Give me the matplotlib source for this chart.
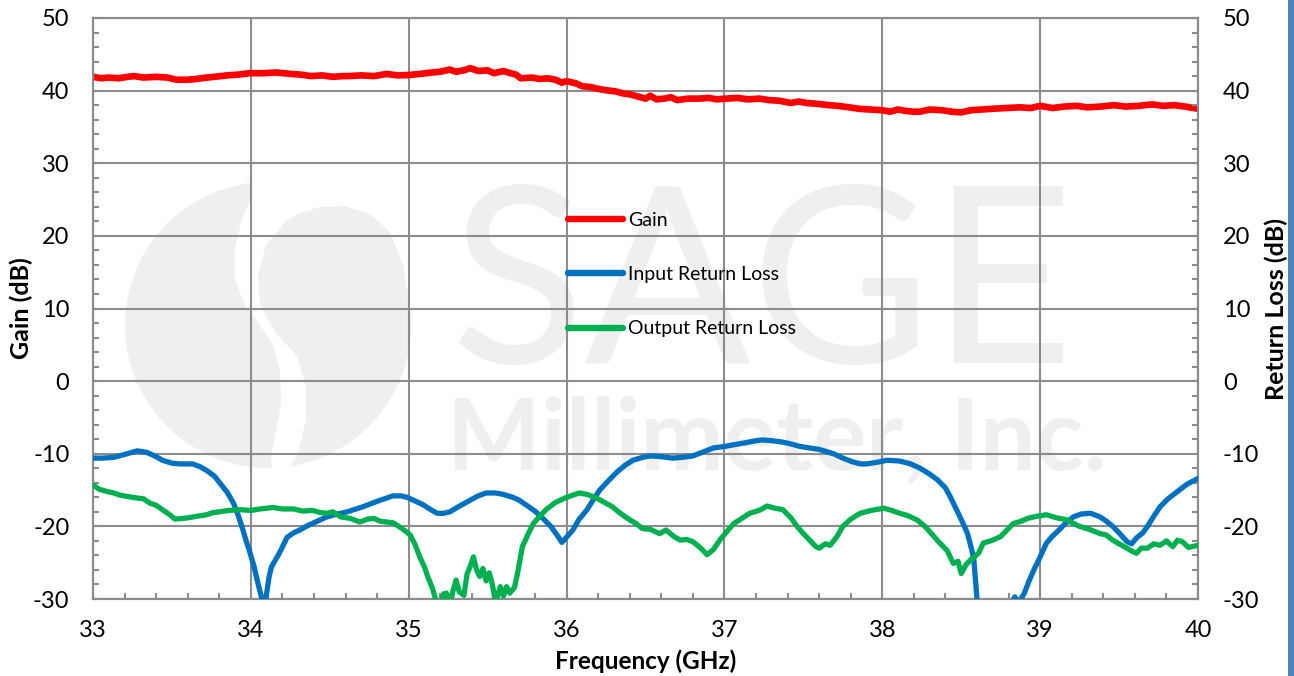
import matplotlib
matplotlib.use('Agg')
import matplotlib.pyplot as plt
from matplotlib.patches import Polygon, Rectangle
from matplotlib.lines import Line2D
from matplotlib.ticker import MultipleLocator
import numpy as np

plt.rcParams['font.family'] = ['Lato', 'DejaVu Sans']
plt.rcParams['axes.unicode_minus'] = False

# Gain (dB) vs frequency (GHz)
gain_f = [33.00, 33.05, 33.10, 33.16, 33.22, 33.26, 33.32, 33.40, 33.47, 33.53,
          33.60, 33.65, 33.72, 33.77, 33.85, 33.92, 33.99, 34.08, 34.16, 34.25,
          34.32, 34.38, 34.45, 34.52, 34.58, 34.62, 34.70, 34.78, 34.86, 34.93,
          35.00, 35.07, 35.15, 35.20, 35.26, 35.30, 35.35, 35.39, 35.44, 35.50,
          35.54, 35.60, 35.63, 35.68, 35.71, 35.78, 35.83, 35.88, 35.93, 35.97,
          36.00, 36.06, 36.10, 36.15, 36.21, 36.27, 36.31, 36.36, 36.40, 36.45,
          36.50, 36.53, 36.57, 36.62, 36.66, 36.70, 36.77, 36.84, 36.90, 36.95,
          37.01, 37.08, 37.15, 37.22, 37.28, 37.35, 37.42, 37.47, 37.52, 37.58,
          37.66, 37.72, 37.79, 37.85, 37.92, 38.00, 38.05, 38.10, 38.15, 38.20,
          38.24, 38.30, 38.38, 38.44, 38.50, 38.56, 38.63, 38.70, 38.78, 38.87,
          38.94, 39.00, 39.08, 39.15, 39.23, 39.30, 39.38, 39.47, 39.54, 39.62,
          39.71, 39.78, 39.85, 39.92, 40.00]
gain = [41.9, 41.7, 41.8, 41.7, 41.9, 42.0, 41.8, 41.9, 41.8, 41.5,
        41.5, 41.6, 41.8, 41.9, 42.1, 42.2, 42.4, 42.4, 42.5, 42.3,
        42.2, 42.0, 42.1, 41.9, 42.0, 42.0, 42.1, 42.0, 42.3, 42.1,
        42.15, 42.3, 42.5, 42.6, 42.9, 42.6, 42.8, 43.1, 42.7, 42.8,
        42.4, 42.7, 42.5, 42.2, 41.7, 41.8, 41.6, 41.7, 41.5, 41.1,
        41.3, 41.0, 40.6, 40.5, 40.2, 40.0, 39.9, 39.6, 39.5, 39.2,
        38.9, 39.3, 38.8, 38.9, 39.1, 38.7, 38.9, 38.9, 39.0, 38.8,
        38.9, 39.0, 38.8, 38.9, 38.7, 38.6, 38.3, 38.5, 38.3, 38.2,
        38.0, 37.9, 37.7, 37.5, 37.4, 37.3, 37.1, 37.4, 37.2, 37.1,
        37.1, 37.4, 37.3, 37.1, 37.0, 37.3, 37.4, 37.5, 37.6, 37.7,
        37.6, 37.9, 37.6, 37.8, 37.9, 37.7, 37.8, 38.0, 37.8, 37.9,
        38.1, 37.9, 38.0, 37.8, 37.5]

# Input return loss (dB)
irl_f = [33.00, 33.06, 33.13, 33.20, 33.28, 33.34, 33.40, 33.44, 33.50, 33.55,
         33.63, 33.68, 33.72, 33.77, 33.81, 33.85, 33.89, 33.92, 33.95, 33.97,
         33.99, 34.02, 34.04, 34.07, 34.085, 34.10, 34.115, 34.13, 34.18, 34.23,
         34.27, 34.31, 34.36, 34.40, 34.48, 34.55, 34.61, 34.71, 34.77, 34.82,
         34.90, 34.95, 34.99, 35.04, 35.09, 35.14, 35.18, 35.22, 35.26, 35.33,
         35.39, 35.44, 35.49, 35.55, 35.60, 35.66, 35.70, 35.76, 35.80, 35.85,
         35.90, 35.94, 35.97, 36.00, 36.04, 36.08, 36.13, 36.17, 36.21, 36.27,
         36.32, 36.37, 36.42, 36.48, 36.53, 36.60, 36.67, 36.73, 36.80, 36.86,
         36.93, 37.00, 37.05, 37.13, 37.20, 37.24, 37.30, 37.37, 37.43, 37.48,
         37.54, 37.60, 37.69, 37.75, 37.81, 37.86, 37.90, 37.96, 38.03, 38.11,
         38.18, 38.24, 38.30, 38.35, 38.40, 38.43, 38.47, 38.51, 38.54, 38.57,
         38.58, 38.60, 38.62, 38.78, 38.82, 38.84, 38.86, 38.87, 38.90, 38.93,
         38.96, 39.00, 39.04, 39.08, 39.11, 39.16, 39.21, 39.26, 39.32, 39.38,
         39.42, 39.46, 39.50, 39.55, 39.58, 39.61, 39.65, 39.68, 39.72, 39.76,
         39.81, 39.87, 39.93, 40.00]
irl = [-10.6, -10.6, -10.5, -10.1, -9.6, -9.8, -10.4, -10.9, -11.3, -11.4,
       -11.4, -11.8, -12.3, -13.1, -14.2, -15.3, -16.8, -18.5, -20.5, -22.0,
       -23.3, -25.5, -27.4, -30.0, -31.5, -29.2, -27.0, -25.6, -23.7, -21.5,
       -20.9, -20.5, -19.9, -19.5, -18.7, -18.3, -18.0, -17.3, -16.8, -16.4,
       -15.8, -15.8, -16.0, -16.5, -17.0, -17.7, -18.2, -18.2, -18.0, -17.1,
       -16.4, -15.8, -15.4, -15.4, -15.6, -16.0, -16.4, -17.3, -17.9, -18.9,
       -20.0, -21.2, -22.2, -21.5, -20.5, -19.0, -17.7, -16.3, -15.0, -13.6,
       -12.5, -11.6, -10.9, -10.5, -10.3, -10.4, -10.6, -10.5, -10.3, -9.8,
       -9.2, -9.0, -8.8, -8.5, -8.2, -8.1, -8.2, -8.4, -8.7, -9.0,
       -9.2, -9.4, -10.0, -10.6, -11.1, -11.4, -11.4, -11.2, -10.9, -11.0,
       -11.4, -12.0, -12.8, -13.6, -14.7, -15.9, -17.7, -19.5, -21.0, -23.5,
       -24.6, -30.0, -32.0, -32.0, -30.5, -29.7, -30.5, -30.3, -29.2, -27.5,
       -26.0, -24.2, -22.3, -21.3, -20.7, -19.6, -18.7, -18.3, -18.2, -18.7,
       -19.3, -20.0, -20.9, -22.1, -22.4, -21.6, -20.9, -20.0, -18.6, -17.3,
       -16.2, -15.2, -14.2, -13.4]

# Output return loss (dB)
orl_f = [33.00, 33.04, 33.09, 33.13, 33.17, 33.22, 33.28, 33.32, 33.36, 33.40,
         33.44, 33.48, 33.52, 33.57, 33.61, 33.66, 33.72, 33.76, 33.80, 33.86,
         33.93, 34.00, 34.06, 34.10, 34.14, 34.20, 34.27, 34.33, 34.39, 34.44,
         34.48, 34.52, 34.57, 34.63, 34.69, 34.74, 34.78, 34.82, 34.86, 34.90,
         34.93, 34.97, 35.01, 35.04, 35.07, 35.10, 35.12, 35.15, 35.17, 35.20,
         35.22, 35.24, 35.26, 35.28, 35.30, 35.32, 35.35, 35.37, 35.39, 35.41,
         35.43, 35.45, 35.47, 35.49, 35.51, 35.53, 35.55, 35.58, 35.60, 35.62,
         35.64, 35.67, 35.69, 35.72, 35.76, 35.79, 35.83, 35.87, 35.93, 36.00,
         36.04, 36.08, 36.13, 36.19, 36.24, 36.29, 36.34, 36.40, 36.44, 36.48,
         36.53, 36.59, 36.63, 36.68, 36.72, 36.76, 36.80, 36.85, 36.89, 36.93,
         36.97, 37.02, 37.06, 37.11, 37.16, 37.22, 37.27, 37.32, 37.37, 37.42,
         37.46, 37.50, 37.54, 37.58, 37.60, 37.64, 37.67, 37.71, 37.75, 37.80,
         37.86, 37.93, 38.01, 38.06, 38.11, 38.16, 38.22, 38.27, 38.32, 38.36,
         38.41, 38.45, 38.48, 38.50, 38.53, 38.56, 38.61, 38.64, 38.70, 38.75,
         38.79, 38.83, 38.88, 38.92, 38.98, 39.04, 39.10, 39.17, 39.21, 39.25,
         39.31, 39.38, 39.42, 39.46, 39.50, 39.55, 39.58, 39.61, 39.64, 39.68,
         39.72, 39.76, 39.80, 39.84, 39.87, 39.90, 39.94, 40.00]
orl = [-14.3, -14.9, -15.2, -15.4, -15.7, -15.9, -16.1, -16.2, -16.8, -17.1,
       -17.7, -18.3, -19.0, -18.9, -18.8, -18.6, -18.4, -18.1, -18.0, -17.8,
       -17.7, -17.8, -17.6, -17.5, -17.4, -17.6, -17.6, -17.9, -17.8, -18.1,
       -18.2, -18.0, -18.7, -18.9, -19.4, -19.0, -18.9, -19.3, -19.4, -19.5,
       -19.9, -20.5, -21.2, -22.5, -24.2, -25.6, -26.9, -28.5, -30.0, -31.0,
       -29.3, -29.2, -31.0, -28.9, -27.4, -29.0, -29.5, -26.5, -25.5, -24.2,
       -26.0, -26.9, -25.8, -27.5, -26.4, -28.0, -30.5, -28.3, -29.6, -28.3,
       -29.2, -28.4, -26.4, -22.8, -20.9, -19.6, -18.6, -17.7, -16.7, -16.0,
       -15.7, -15.4, -15.6, -16.1, -16.7, -17.3, -18.2, -19.1, -19.6, -20.3,
       -20.4, -21.0, -20.5, -21.4, -21.9, -21.8, -22.1, -23.0, -23.9, -23.2,
       -21.9, -20.6, -19.6, -18.9, -18.2, -17.8, -17.2, -17.5, -17.7, -18.8,
       -20.0, -21.0, -21.9, -22.8, -23.0, -22.4, -22.6, -21.5, -20.0, -19.0,
       -18.2, -17.8, -17.5, -17.8, -18.2, -18.5, -19.1, -20.0, -21.2, -22.2,
       -23.3, -25.1, -24.8, -26.5, -25.3, -24.6, -23.7, -22.3, -21.9, -21.4,
       -20.5, -19.6, -19.3, -18.9, -18.6, -18.4, -18.8, -19.1, -19.6, -20.0,
       -20.4, -21.0, -21.2, -21.9, -22.4, -23.0, -23.4, -23.7, -23.0, -23.0,
       -22.4, -22.6, -22.0, -22.8, -21.9, -22.1, -22.9, -22.6]

labels = ['Gain', 'Input Return Loss', 'Output Return Loss']
colors = ['#FF0000', '#0070C0', '#00B050']

W, H = 1294, 676
fig = plt.figure(figsize=(W / 100, H / 100), dpi=100)
ax = fig.add_axes([93 / W, 1 - 599 / H, (1198 - 93) / W, (599 - 18) / H])
ax2 = ax.twinx()

grid_c = '#8c8c8c'
wm_c = '#efefef'


def px(x, y):
    # image pixel (y from top) -> figure fraction
    return (x / W, 1 - y / H)


# --- watermark (logo + company name), under the grid
left_piece = [px(268 + 143 * np.cos(t), 325 - 143 * np.sin(t))
              for t in np.radians(np.linspace(97, 268, 60))]
left_piece += [px(*p) for p in [(272, 468), (271, 455), (275, 437), (281, 403),
                                (280, 370), (273, 345), (260, 325), (245, 305),
                                (235, 280), (235, 250), (241, 222), (250, 200)]]
right_piece = [px(*p) for p in [(287, 220), (266, 245), (258, 275), (260, 305),
                                (275, 332), (297, 356), (306, 387), (306, 420),
                                (298, 453)]]
right_piece += [px(268 + 143 * np.cos(t), 325 - 143 * np.sin(t))
                for t in np.radians(np.linspace(-81, 10, 40))]
right_piece += [px(*p) for p in [(403, 265), (390, 232), (370, 214), (345, 206),
                                 (320, 207), (300, 213)]]
for pts in (left_piece, right_piece):
    ax.add_patch(Polygon(pts, closed=True, transform=fig.transFigure,
                         facecolor=wm_c, edgecolor='none', zorder=0.1))

renderer = fig.canvas.get_renderer()
t1 = ax.text(*px(451, 363), 'SAGE', transform=fig.transFigure, fontsize=100,
             color=wm_c, ha='left', va='baseline', zorder=0.1)
t2 = ax.text(*px(447, 470), 'Millimeter, Inc.', transform=fig.transFigure,
             fontsize=60, color=wm_c, fontweight='bold', ha='left',
             va='baseline', zorder=0.1)
for t, w in ((t1, 624), (t2, 660)):
    bb = t.get_window_extent(renderer)
    t.set_fontsize(t.get_fontsize() * w / bb.width)

# --- curves
ax.plot(gain_f, gain, color=colors[0], lw=4.8, solid_capstyle='round', zorder=3)
ax2.plot(irl_f, irl, color=colors[1], lw=3.8, solid_capstyle='round', zorder=3)
ax2.plot(orl_f, orl, color=colors[2], lw=3.8, solid_capstyle='round', zorder=3)

for a in (ax, ax2):
    a.set_xlim(33, 40)
    a.set_ylim(-30, 50)
    a.yaxis.set_major_locator(MultipleLocator(10))
    a.yaxis.set_minor_locator(MultipleLocator(2))
    for s in a.spines.values():
        s.set_color(grid_c)
        s.set_linewidth(1.5)
ax.xaxis.set_major_locator(MultipleLocator(1))
ax.xaxis.set_minor_locator(MultipleLocator(0.2))

ax.set_axisbelow(True)
ax.grid(True, which='major', color=grid_c, lw=1.5)

ax.tick_params(which='both', direction='in', color=grid_c, width=1.5,
               length=4.5, labelsize=17, top=False, right=False)
ax.tick_params(axis='y', pad=17)
ax.tick_params(axis='x', pad=15)
ax2.tick_params(which='both', direction='in', color=grid_c, width=1.5,
                length=4.5, labelsize=17, pad=18)

ax.set_xlabel('Frequency (GHz)', fontsize=17.5, fontweight='bold')
ax.set_ylabel('Gain (dB)', fontsize=18, fontweight='bold')
ax2.set_ylabel('Return Loss (dB)', fontsize=18, fontweight='bold')
ax.xaxis.set_label_coords(0.5, -0.087)
ax.yaxis.set_label_coords(-0.054, 0.5)
ax2.yaxis.set_label_coords(1.06, 0.5)

handles = [Line2D([], [], color=c, lw=4.6, solid_capstyle='round') for c in colors]
ax2.legend(handles, labels, loc='upper left', bbox_to_anchor=(0.43, 0.666),
           frameon=False, fontsize=14, handlelength=2.8, handletextpad=0.3,
           labelspacing=1.91, borderpad=0, borderaxespad=0)

# blue bar on the right edge
fig.add_artist(Rectangle((1288 / W, 0), 6 / W, 1, transform=fig.transFigure,
                         facecolor='#4F81BD', edgecolor='none'))

fig.savefig('out.png', dpi=100)
